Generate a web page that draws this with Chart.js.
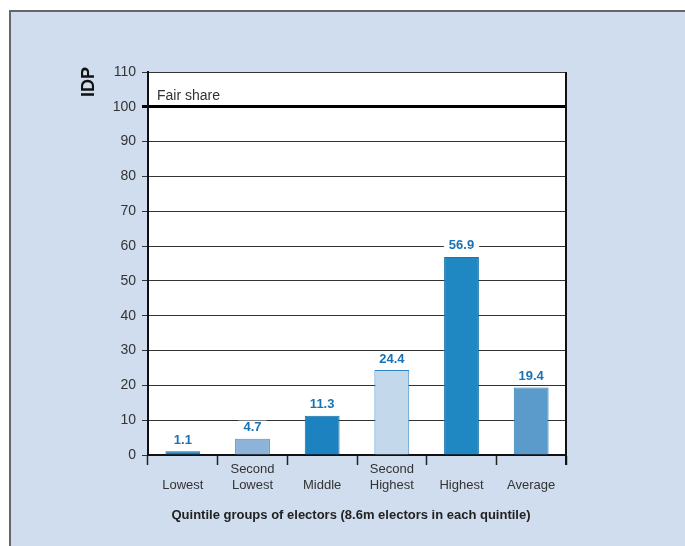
<!DOCTYPE html>
<html>
<head>
<meta charset="utf-8">
<script src="https://cdn.jsdelivr.net/npm/chart.js@4/dist/chart.umd.min.js"></script>
<style>
  html, body { margin: 0; padding: 0; background: #ffffff; }
  #wrap { position: relative; width: 685px; height: 546px; overflow: hidden; }
  #panel {
    position: absolute; left: 9px; top: 10px; right: 0; bottom: 0;
    background: #d0ddee;
    border-top: 2px solid #666;
    border-left: 2px solid #666;
  }
  #chart { position: absolute; left: 0; top: 0; }
</style>
</head>
<body>
<div id="wrap">
  <div id="panel"></div>
  <canvas id="chart" width="685" height="546"></canvas>
</div>
<script>
// Quintile groups and their index values
const categories = ['Lowest', 'Second Lowest', 'Middle', 'Second Highest', 'Highest', 'Average'];
const tickLabels = [['', 'Lowest'], ['Second', 'Lowest'], ['', 'Middle'], ['Second', 'Highest'], ['', 'Highest'], ['', 'Average']];
const idpValues = [1.1, 4.7, 11.3, 24.4, 56.9, 19.4];
const fairShare = 100;
const xAxisTitle = 'Quintile groups of electors (8.6m electors in each quintile)';

const fillColors = ['#1c7dbd', '#8db3d9', '#1d82c0', '#c4d8ec', '#1f87c1', '#5a9bcb'];
const edgeColors = ['#176ba6', '#4e8dc5', '#176ea8', '#2f86c6', '#1a75ad', '#2f7ab5'];

const FONT = '"Liberation Sans", Arial, Helvetica, sans-serif';

// White plot area, right frame edge, fair-share note, axis names and value labels
const decorations = {
  id: 'decorations',
  beforeDraw(chart) {
    const { ctx, chartArea: a } = chart;
    ctx.save();
    ctx.fillStyle = '#ffffff';
    ctx.fillRect(a.left, a.top, a.right - a.left, a.bottom - a.top);
    ctx.restore();
  },
  afterDraw(chart) {
    const { ctx, chartArea: a, scales } = chart;
    ctx.save();
    // right frame edge, running down to the tick marks
    ctx.strokeStyle = '#111';
    ctx.lineWidth = 2;
    ctx.beginPath();
    ctx.moveTo(a.right, a.top);
    ctx.lineTo(a.right, a.bottom + 10);
    ctx.stroke();

    // fair share note
    ctx.fillStyle = '#333';
    ctx.font = '14px ' + FONT;
    ctx.textAlign = 'left';
    ctx.textBaseline = 'middle';
    ctx.fillText('Fair share', a.left + 9, scales.y.getPixelForValue(fairShare) - 11);

    // y axis name
    ctx.save();
    ctx.translate(89, 82);
    ctx.rotate(-Math.PI / 2);
    ctx.font = 'bold 18px ' + FONT;
    ctx.fillStyle = '#111';
    ctx.textAlign = 'center';
    ctx.textBaseline = 'middle';
    ctx.fillText('IDP', 0, 0);
    ctx.restore();

    // x axis name
    ctx.font = 'bold 13px ' + FONT;
    ctx.fillStyle = '#222';
    ctx.textAlign = 'center';
    ctx.textBaseline = 'middle';
    ctx.fillText(xAxisTitle, (a.left + a.right) / 2 - 6, a.bottom + 60);

    // value labels above bars
    const meta = chart.getDatasetMeta(0);
    ctx.font = 'bold 13px ' + FONT;
    meta.data.forEach((bar, i) => {
      const txt = idpValues[i].toFixed(1);
      const y = bar.y - 11;
      const w = ctx.measureText(txt).width;
      ctx.fillStyle = '#ffffff';
      ctx.fillRect(bar.x - w / 2 - 5, y - 7, w + 10, 14);
      ctx.fillStyle = '#1a72b5';
      ctx.fillText(txt, bar.x, y);
    });
    ctx.restore();
  }
};

new Chart(document.getElementById('chart'), {
  type: 'bar',
  data: {
    labels: tickLabels,
    datasets: [{
      label: 'IDP',
      data: idpValues,
      backgroundColor: fillColors,
      borderColor: edgeColors,
      borderWidth: 1,
      borderSkipped: 'bottom',
      categoryPercentage: 1,
      barPercentage: 0.5
    }]
  },
  options: {
    responsive: false,
    animation: false,
    layout: { padding: { left: 0, top: 72, right: 119, bottom: 0 } },
    plugins: { legend: { display: false }, tooltip: { enabled: false } },
    scales: {
      x: {
        afterFit(s) { s.height = 91; },
        grid: { drawOnChartArea: false, drawTicks: true, tickLength: 10, tickColor: '#222', tickWidth: 1.5 },
        border: { color: '#111', width: 2 },
        ticks: { color: '#333', font: { family: FONT, size: 13 }, padding: -3, maxRotation: 0, autoSkip: false }
      },
      y: {
        min: 0,
        max: 110,
        afterFit(s) { s.width = 148; },
        grid: {
          color: c => (c.tick && c.tick.value === fairShare) ? '#000' : '#333',
          lineWidth: c => (c.tick && c.tick.value === fairShare) ? 3 : 1,
          tickLength: 6
        },
        border: { color: '#111', width: 2 },
        ticks: { stepSize: 10, color: '#333', font: { family: FONT, size: 14 }, padding: 6 }
      }
    }
  },
  plugins: [decorations]
});
</script>
</body>
</html>
